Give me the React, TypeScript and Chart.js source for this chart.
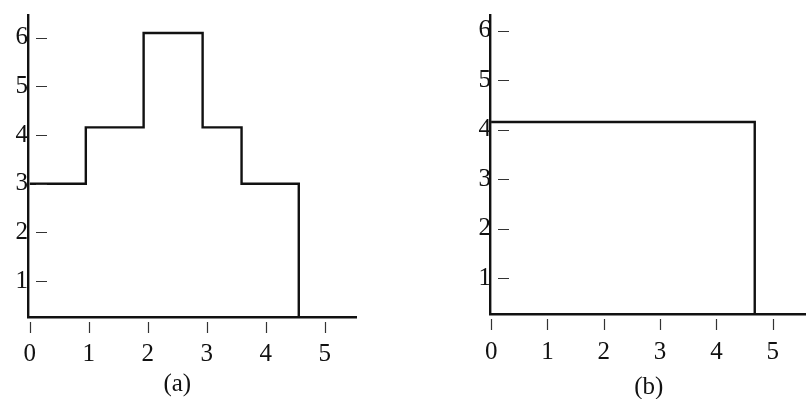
import React, { useEffect, useRef } from 'react';
import { Chart, registerables } from 'chart.js';

Chart.register(...registerables);

// ---- data ----
const xTickValues = [0, 1, 2, 3, 4, 5];
const yTickValues = [1, 2, 3, 4, 5, 6];

// (a): step function, value holds from each x until the next x
const stepsAX = [0, 0.95, 1.93, 2.93, 3.59, 4.56];
const stepsAY = [3, 4.16, 6.1, 4.16, 3, 0];

// (b): constant level then drop
const stepsBX = [0, 4.68];
const stepsBY = [4.16, 0];

const captionA = '(a)';
const captionB = '(b)';

const FONT = '"Liberation Serif", "Times New Roman", serif';
const FONT_SIZE = 25;

const scanPlugin = {
  id: 'scan',
  afterDraw(chart: any, _args: any, opts: any) {
    const { ctx, chartArea, scales } = chart;
    const x = scales.x;
    const y = scales.y;
    ctx.save();
    ctx.strokeStyle = '#333';
    ctx.lineWidth = 1.2;
    ctx.beginPath();
    for (const v of yTickValues) {
      const py = Math.round(y.getPixelForValue(v)) + 0.5;
      ctx.moveTo(chartArea.left + 8, py);
      ctx.lineTo(chartArea.left + 19, py);
    }
    for (const v of xTickValues) {
      const px = Math.round(x.getPixelForValue(v)) + 0.5;
      ctx.moveTo(px, chartArea.bottom + 5);
      ctx.lineTo(px, chartArea.bottom + 16);
    }
    ctx.stroke();
    ctx.fillStyle = '#111';
    ctx.font = FONT_SIZE + 'px ' + FONT;
    ctx.textAlign = 'center';
    ctx.textBaseline = 'middle';
    ctx.fillText(opts.text, x.getPixelForValue(opts.at), opts.y);
    ctx.restore();
  },
};

type Props = {
  xs: number[];
  ys: number[];
  xMin: number;
  xMax: number;
  yMin: number;
  yMax: number;
  axisWidth: number;
  axisHeight: number;
  padTop: number;
  padRight: number;
  labelPadY: number;
  labelPadX: number;
  caption: string;
  captionAt: number;
  captionY: number;
  width: number;
};

function StepChart(p: Props) {
  const ref = useRef<HTMLCanvasElement | null>(null);
  useEffect(() => {
    if (!ref.current) return;
    const chart = new Chart(ref.current, {
      type: 'line',
      data: {
        datasets: [
          {
            data: p.xs.map((x, i) => ({ x, y: p.ys[i] })),
            stepped: 'before',
            borderColor: '#111',
            borderWidth: 2.4,
            pointRadius: 0,
            fill: false,
          },
        ],
      },
      plugins: [scanPlugin],
      options: {
        responsive: false,
        animation: false,
        devicePixelRatio: 1,
        layout: { padding: { top: p.padTop, right: p.padRight, left: 0, bottom: 0 } },
        plugins: {
          legend: { display: false },
          tooltip: { enabled: false },
          scan: { text: p.caption, at: p.captionAt, y: p.captionY },
        } as any,
        scales: {
          x: {
            type: 'linear',
            min: p.xMin,
            max: p.xMax,
            afterBuildTicks: (s: any) => {
              s.ticks = xTickValues.map((v) => ({ value: v }));
            },
            afterFit: (s: any) => {
              s.height = p.axisHeight;
            },
            grid: { display: true, drawOnChartArea: false, drawTicks: false },
            border: { display: true, color: '#111', width: 2.4 },
            ticks: {
              color: '#111',
              padding: p.labelPadX,
              font: { family: FONT, size: FONT_SIZE },
              maxRotation: 0,
              callback: (v: any) => String(v),
            },
          },
          y: {
            type: 'linear',
            min: p.yMin,
            max: p.yMax,
            afterBuildTicks: (s: any) => {
              s.ticks = yTickValues.map((v) => ({ value: v }));
            },
            afterFit: (s: any) => {
              s.width = p.axisWidth;
            },
            grid: { display: true, drawOnChartArea: false, drawTicks: false },
            border: { display: true, color: '#111', width: 2.4 },
            ticks: {
              color: '#111',
              padding: p.labelPadY,
              font: { family: FONT, size: FONT_SIZE },
              callback: (v: any) => String(v),
            },
          },
        },
      } as any,
    });
    return () => chart.destroy();
  }, []);
  return <canvas ref={ref} width={p.width} height={399} style={{ display: 'block' }} />;
}

export default function App() {
  return (
    <div style={{ position: 'absolute', left: 0, top: 0, width: 806, height: 399, background: '#fff' }}>
      <div style={{ position: 'absolute', left: 0, top: 0, width: 410, height: 399 }}>
        <StepChart
          xs={stepsAX}
          ys={stepsAY}
          xMin={-0.03}
          xMax={5.53}
          yMin={0.26}
          yMax={6.47}
          axisWidth={28}
          axisHeight={82}
          padTop={10}
          padRight={54}
          labelPadY={0}
          labelPadX={22}
          caption={captionA}
          captionAt={2.5}
          captionY={384}
          width={410}
        />
      </div>
      <div style={{ position: 'absolute', left: 420, top: 0, width: 386, height: 399 }}>
        <StepChart
          xs={stepsBX}
          ys={stepsBY}
          xMin={-0.02}
          xMax={5.59}
          yMin={0.28}
          yMax={6.32}
          axisWidth={70}
          axisHeight={85}
          padTop={15}
          padRight={0}
          labelPadY={-1}
          labelPadX={23}
          caption={captionB}
          captionAt={2.8}
          captionY={387}
          width={386}
        />
      </div>
    </div>
  );
}
